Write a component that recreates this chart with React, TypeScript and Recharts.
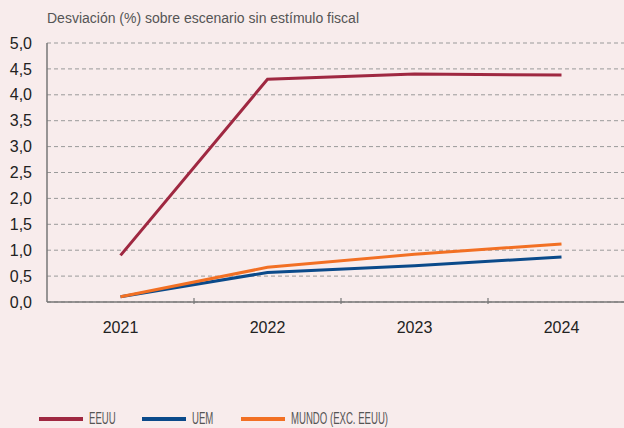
import React from "react";
import { LineChart, Line, XAxis, YAxis, CartesianGrid } from "recharts";

const years = ["2021", "2022", "2023", "2024"];
const eeuu = [0.9, 4.3, 4.4, 4.38];
const uem = [0.1, 0.57, 0.7, 0.87];
const mundo = [0.1, 0.67, 0.92, 1.12];
const yTicks = [0, 0.5, 1, 1.5, 2, 2.5, 3, 3.5, 4, 4.5, 5];

const series = [
  { key: "eeuu", name: "EEUU", color: "#9f2841", left: 39 },
  { key: "uem", name: "UEM", color: "#0b4a8a", left: 142 },
  { key: "mundo", name: "MUNDO (EXC. EEUU)", color: "#f27024", left: 241 },
];

const data = years.map((year, i) => ({
  year,
  eeuu: eeuu[i],
  uem: uem[i],
  mundo: mundo[i],
}));

const BG = "#f8ecec";
const FONT = "'Liberation Sans', Arial, sans-serif";

function fmt(v: number) {
  return v.toFixed(1).replace(".", ",");
}

function XTick(props: any) {
  const { x, y, payload, index } = props;
  const half = payload?.offset ?? 73.5;
  return (
    <g>
      {index > 0 && (
        <line
          x1={x - half}
          x2={x - half}
          y1={y}
          y2={y - 6}
          stroke="#777"
          strokeWidth={1.2}
        />
      )}
      <text
        x={x}
        y={y + 29}
        textAnchor="middle"
        fontSize={16}
        fill="#222"
        fontFamily={FONT}
      >
        {payload.value}
      </text>
    </g>
  );
}

export default function App() {
  return (
    <div
      style={{
        position: "fixed",
        left: 0,
        top: 0,
        width: 624,
        height: 428,
        overflow: "hidden",
        background: BG,
        fontFamily: FONT,
      }}
    >
      <div
        style={{
          position: "absolute",
          left: 47,
          top: 10,
          fontSize: 14,
          color: "#555",
        }}
      >
        Desviación (%) sobre escenario sin estímulo fiscal
      </div>
      <LineChart
        width={640}
        height={428}
        data={data}
        margin={{ top: 43, right: 5, bottom: 96, left: 0 }}
      >
        <CartesianGrid
          vertical={false}
          stroke="#9a9a9a"
          strokeDasharray="4 3"
          strokeWidth={1}
        />
        <XAxis
          dataKey="year"
          scale="band"
          axisLine={{ stroke: "#777", strokeWidth: 1.5 }}
          tickLine={false}
          tickSize={0}
          tick={<XTick />}
          height={30}
          interval={0}
        />
        <YAxis
          domain={[0, 5]}
          ticks={yTicks}
          width={47}
          axisLine={{ stroke: "#777", strokeWidth: 1.5 }}
          tickLine={false}
          tickSize={0}
          tickMargin={15}
          tickFormatter={fmt}
          tick={{ fontSize: 16, fill: "#222", fontFamily: FONT }}
          interval={0}
        />
        {series.map((s) => (
          <Line
            key={s.key}
            type="linear"
            dataKey={s.key}
            name={s.name}
            stroke={s.color}
            strokeWidth={3}
            dot={false}
            activeDot={false}
            isAnimationActive={false}
          />
        ))}
      </LineChart>
      {series.map((s) => (
        <div
          key={s.key}
          style={{
            position: "absolute",
            left: s.left,
            top: 411,
            height: 16,
            display: "flex",
            alignItems: "center",
            fontSize: 16,
            lineHeight: "16px",
            color: "#555",
            whiteSpace: "nowrap",
          }}
        >
          <span
            style={{
              display: "inline-block",
              width: 44,
              height: 4,
              background: s.color,
              marginRight: 6,
            }}
          />
          <span
            style={{
              display: "inline-block",
              transform: "scaleX(0.6)",
              transformOrigin: "left center",
            }}
          >
            {s.name}
          </span>
        </div>
      ))}
    </div>
  );
}
